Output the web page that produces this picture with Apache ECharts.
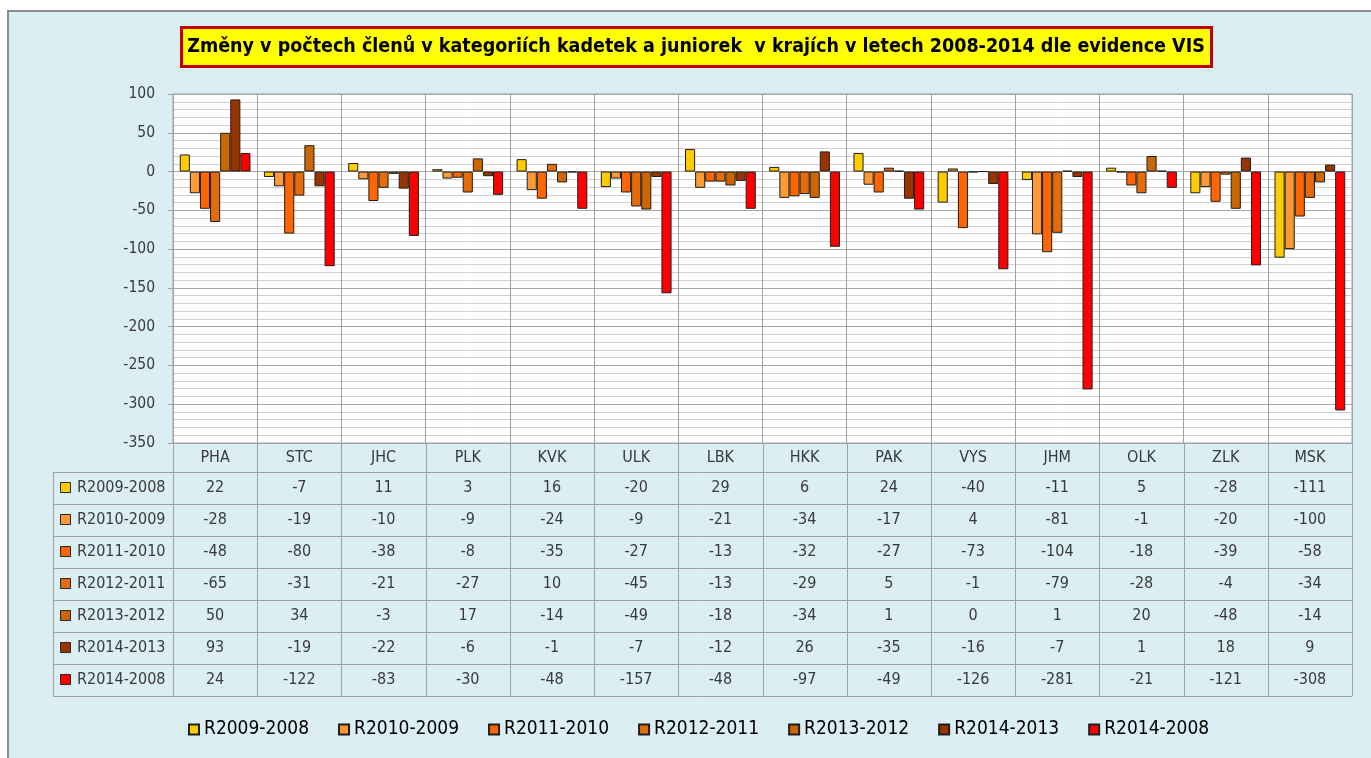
<!DOCTYPE html>
<html>
<head>
<meta charset="utf-8">
<script src="https://cdn.jsdelivr.net/npm/echarts@6/dist/echarts.min.js"></script>
<style>
html, body { margin: 0; padding: 0; background: #fff; }
#chart { width: 1371px; height: 758px; }
</style>
</head>
<body>
<div id="chart"></div>
<script>
// kraje
var categories = ['PHA', 'STC', 'JHC', 'PLK', 'KVK', 'ULK', 'LBK', 'HKK', 'PAK', 'VYS', 'JHM', 'OLK', 'ZLK', 'MSK']
var seriesNames = ['R2009-2008', 'R2010-2009', 'R2011-2010', 'R2012-2011', 'R2013-2012', 'R2014-2013', 'R2014-2008']
// rozdily po letech
var r2009_2008 = [22, -7, 11, 3, 16, -20, 29, 6, 24, -40, -11, 5, -28, -111]
var r2010_2009 = [-28, -19, -10, -9, -24, -9, -21, -34, -17, 4, -81, -1, -20, -100]
var r2011_2010 = [-48, -80, -38, -8, -35, -27, -13, -32, -27, -73, -104, -18, -39, -58]
var r2012_2011 = [-65, -31, -21, -27, 10, -45, -13, -29, 5, -1, -79, -28, -4, -34]
var r2013_2012 = [50, 34, -3, 17, -14, -49, -18, -34, 1, 0, 1, 20, -48, -14]
var r2014_2013 = [93, -19, -22, -6, -1, -7, -12, 26, -35, -16, -7, 1, 18, 9]
var r2014_2008 = [24, -122, -83, -30, -48, -157, -48, -97, -49, -126, -281, -21, -121, -308]
var seriesValues = [r2009_2008, r2010_2009, r2011_2010, r2012_2011, r2013_2012, r2014_2013, r2014_2008]
var colors = ['#ffcc00', '#ff9933', '#ff6600', '#e46c0a', '#cc6600', '#993300', '#ff0000']
var titleText = 'Změny v počtech členů v kategoriích kadetek a juniorek  v krajích v letech 2008-2014 dle evidence VIS'

var font = "'DejaVu Sans Condensed', 'DejaVu Sans', sans-serif"
var lineColor = '#a0a0a0'
var textColor = '#3a3a3a'

// rozlozeni
var gridLeft = 173
var gridTop = 94
var gridW = 1179
var gridH = 349
var tableLeft = 53
var headerH = 29
var rowH = 32

var myChart = echarts.init(document.getElementById('chart'))

function buildGraphic() {
  var g = []
  var catW = gridW / categories.length
  var tableTop = gridTop + gridH
  var rowsTop = tableTop + headerH
  var tableBottom = rowsTop + rowH * seriesNames.length
  var right = gridLeft + gridW
  // pozadi grafu
  g.push({
    type: 'rect', z: -10, silent: true,
    shape: { x: 8, y: 11, width: 1420, height: 820 },
    style: { fill: '#daeef3', stroke: '#8c8c8c', lineWidth: 2 }
  })
  // titulek
  g.push({
    type: 'rect', silent: true,
    shape: { x: 181.5, y: 27.5, width: 1030, height: 39 },
    style: { fill: '#ffff00', stroke: '#c00000', lineWidth: 3 }
  })
  g.push({
    type: 'text', silent: true, x: 696, y: 47,
    style: {
      text: titleText, font: 'bold 19.5px ' + font, fill: '#000',
      textAlign: 'center', textVerticalAlign: 'middle', align: 'center', verticalAlign: 'middle'
    }
  })
  // vodorovne cary tabulky
  for (var i = 0; i <= seriesNames.length; i++) {
    var y = Math.round(rowsTop + i * rowH) + 0.5
    g.push({ type: 'line', silent: true, shape: { x1: tableLeft, y1: y, x2: right, y2: y }, style: { stroke: lineColor, lineWidth: 1 } })
  }
  // svisle cary tabulky
  for (var k = 0; k <= categories.length; k++) {
    var x = Math.round(gridLeft + k * catW) + 0.5
    g.push({ type: 'line', silent: true, shape: { x1: x, y1: tableTop, x2: x, y2: tableBottom }, style: { stroke: lineColor, lineWidth: 1 } })
  }
  g.push({ type: 'line', silent: true, shape: { x1: tableLeft + 0.5, y1: rowsTop, x2: tableLeft + 0.5, y2: tableBottom }, style: { stroke: lineColor, lineWidth: 1 } })
  // radky tabulky
  seriesNames.forEach(function (name, si) {
    var cy = rowsTop + (si + 0.5) * rowH
    g.push({
      type: 'rect', silent: true,
      shape: { x: 60.5, y: Math.round(cy - 5) - 0.5, width: 10, height: 10 },
      style: { fill: colors[si], stroke: '#262626', lineWidth: 1 }
    })
    g.push({
      type: 'text', silent: true, x: 77, y: cy,
      style: { text: name, font: '16px ' + font, fill: textColor, textAlign: 'left', textVerticalAlign: 'middle', align: 'left', verticalAlign: 'middle' }
    })
    seriesValues[si].forEach(function (v, ci) {
      g.push({
        type: 'text', silent: true, x: gridLeft + (ci + 0.5) * catW, y: cy,
        style: { text: String(v), font: '16px ' + font, fill: textColor, textAlign: 'center', textVerticalAlign: 'middle', align: 'center', verticalAlign: 'middle' }
      })
    })
  })
  return g
}

var option = {
  backgroundColor: '#fff',
  animation: false,
  color: colors,
  grid: {
    left: gridLeft, top: gridTop, width: gridW, height: gridH,
    show: true, backgroundColor: '#fff', borderColor: lineColor, borderWidth: 1
  },
  legend: {
    data: seriesNames,
    left: 183,
    top: 715,
    itemWidth: 10,
    itemHeight: 10,
    itemGap: 29,
    icon: 'rect',
    textStyle: { fontFamily: font, fontSize: 19, color: '#000' }
  },
  xAxis: {
    type: 'category',
    data: categories,
    axisLine: { show: true, onZero: false, lineStyle: { color: lineColor } },
    axisTick: { show: false },
    axisLabel: { interval: 0, margin: 7, fontFamily: font, fontSize: 16, color: textColor },
    splitLine: { show: true, interval: 0, lineStyle: { color: lineColor, width: 1 } }
  },
  yAxis: {
    type: 'value',
    min: -350,
    max: 100,
    interval: 50,
    axisLine: { show: true, lineStyle: { color: lineColor } },
    axisTick: { show: true, length: 5, lineStyle: { color: lineColor } },
    axisLabel: { margin: 18, fontFamily: font, fontSize: 15.5, color: textColor },
    splitLine: { show: true, lineStyle: { color: '#a6a6a6', width: 1 } },
    minorTick: { show: false, splitNumber: 5 },
    minorSplitLine: { show: true, lineStyle: { color: '#d0d0d0', width: 1 } }
  },
  series: seriesNames.map(function (name, i) {
    return {
      name: name,
      type: 'bar',
      data: seriesValues[i],
      barGap: '0%',
      barCategoryGap: '16%',
      itemStyle: { color: colors[i], borderColor: '#1e1e1e', borderWidth: 1 }
    }
  }),
  graphic: buildGraphic()
}

myChart.setOption(option)
window.addEventListener('resize', () => {
  myChart.resize()
})
</script>
</body>
</html>
